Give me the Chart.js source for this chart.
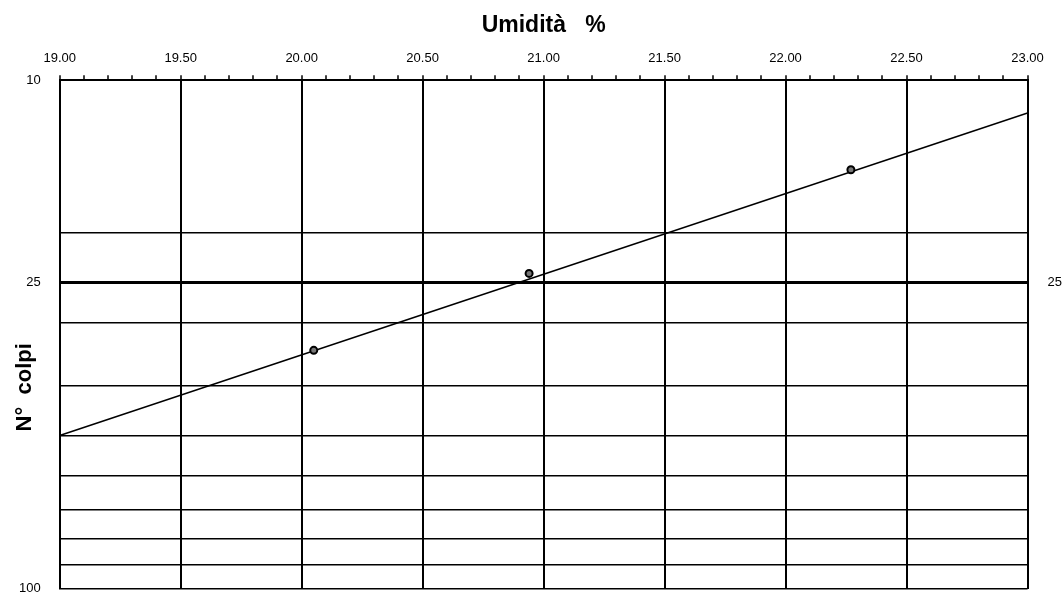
<!DOCTYPE html>
<html>
<head>
<meta charset="utf-8">
<script src="https://cdn.jsdelivr.net/npm/chart.js@4/dist/chart.umd.min.js"></script>
<style>
  html, body { margin: 0; padding: 0; background: #fff; overflow: hidden; }
  canvas { display: block; }
</style>
</head>
<body>
<canvas id="casagrande" width="1062" height="613"></canvas>
<script>
// prove (umidità %, n° colpi)
var moisture = [20.05, 20.94, 22.27];
var blows = [34, 24, 15];

// retta di interpolazione (estremi letti ai bordi del grafico)
var trendMoisture = [19.0, 23.0];
var trendBlows = [50, 11.6];

// assi
var xMin = 19, xMax = 23;
var yGrid = [10, 20, 25, 30, 40, 50, 60, 70, 80, 90, 100];
var yLeftLabels = [10, 25, 100];
var yRightLabels = [25];

var FONT = "'Liberation Sans', Arial, sans-serif";

function isMajor(v) {
  return Math.abs(v * 2 - Math.round(v * 2)) < 1e-6;
}

// titolo asse y, un po' sotto il centro come nell'originale
var yTitle = {
  id: 'yTitle',
  afterDraw: function(chart) {
    var ctx = chart.ctx, a = chart.chartArea;
    ctx.save();
    ctx.translate(a.left - 35, (a.top + a.bottom) / 2 + 53);
    ctx.rotate(-Math.PI / 2);
    ctx.font = 'bold 22px ' + FONT;
    ctx.fillStyle = '#000';
    ctx.textAlign = 'center';
    ctx.textBaseline = 'middle';
    ctx.fillText('N°  colpi', 0, 0);
    ctx.restore();
  }
};

Chart.defaults.font.family = FONT;
Chart.defaults.color = '#000';

var chart = new Chart('casagrande', {
  type: 'scatter',
  data: {
    datasets: [
      {
        label: 'prove',
        data: moisture.map(function(w, i) { return {x: w, y: blows[i]}; }),
        backgroundColor: '#777',
        borderColor: '#000',
        borderWidth: 2,
        pointRadius: 3.5,
        order: 0
      },
      {
        label: 'retta',
        data: trendMoisture.map(function(w, i) { return {x: w, y: trendBlows[i]}; }),
        showLine: true,
        borderColor: '#000',
        borderWidth: 1.5,
        pointRadius: 0,
        order: 1
      }
    ]
  },
  options: {
    responsive: false,
    animation: false,
    layout: { padding: { left: 0, right: -20, top: 0, bottom: 0 } },
    plugins: {
      legend: { display: false },
      tooltip: { enabled: false }
    },
    scales: {
      x: {
        type: 'linear',
        position: 'top',
        min: xMin,
        max: xMax,
        title: {
          display: true,
          text: 'Umidità   %',
          font: { size: 23, weight: 'bold' },
          padding: { top: 12, bottom: 2 }
        },
        ticks: {
          stepSize: 0.1,
          autoSkip: false,
          maxRotation: 0,
          padding: 9,
          font: { size: 13 },
          callback: function(v) { return isMajor(v) ? v.toFixed(2) : ''; }
        },
        grid: {
          color: function(c) { return isMajor(c.tick.value) ? '#000' : 'rgba(0,0,0,0)'; },
          lineWidth: 2,
          tickColor: '#000',
          tickWidth: 1.5,
          tickLength: 5
        },
        border: { display: true, color: '#000', width: 2 }
      },
      y: {
        type: 'logarithmic',
        position: 'left',
        reverse: true,
        min: 10,
        max: 100,
        afterBuildTicks: function(axis) {
          axis.ticks = yGrid.map(function(v) { return {value: v}; });
        },
        ticks: {
          padding: 19,
          // lineHeight basso: l'etichetta 100 può sporgere sotto il grafico come nell'originale
          font: { size: 13, lineHeight: 0.7 },
          callback: function(v) { return yLeftLabels.indexOf(v) >= 0 ? String(v) : ''; }
        },
        grid: {
          color: '#000',
          lineWidth: function(c) { return c.tick.value === 25 ? 3 : 1.5; },
          drawTicks: false
        },
        border: { display: true, color: '#000', width: 2 }
      },
      y2: {
        type: 'logarithmic',
        position: 'right',
        reverse: true,
        min: 10,
        max: 100,
        afterBuildTicks: function(axis) {
          axis.ticks = yGrid.map(function(v) { return {value: v}; });
        },
        ticks: {
          padding: 20,
          font: { size: 13, lineHeight: 0.7 },
          callback: function(v) { return yRightLabels.indexOf(v) >= 0 ? String(v) : ''; }
        },
        grid: { drawOnChartArea: false, drawTicks: false },
        border: { display: true, color: '#000', width: 2 }
      }
    }
  },
  plugins: [yTitle]
});
</script>
</body>
</html>
